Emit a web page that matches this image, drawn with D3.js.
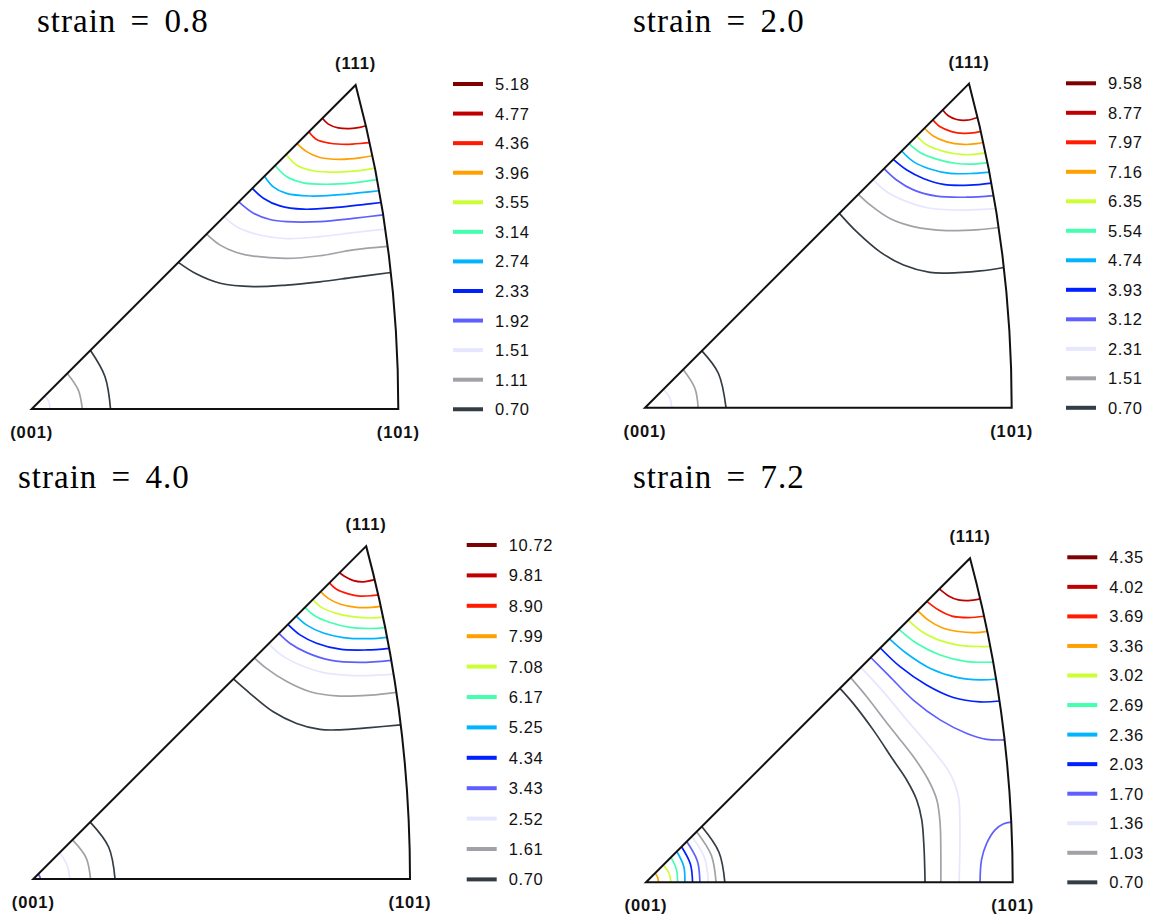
<!DOCTYPE html>
<html>
<head>
<meta charset="utf-8">
<script src="https://cdn.jsdelivr.net/npm/d3@7"></script>
<style>
  body { margin: 0; background: #fff; }
  svg { display: block; }
</style>
</head>
<body>
<svg id="fig" width="1155" height="917"></svg>
<script>
// Inverse pole figures (standard stereographic triangle) at four strains.
// Contour points are given in triangle coordinates normalised so that
// (001) = (0,0), (101) = (1,0) and (111) = (0.8836, 0.8836).

const titles = ["strain = 0.8", "strain = 2.0", "strain = 4.0", "strain = 7.2"];
const poleLabels = ["(001)", "(101)", "(111)"];

// contour levels, lowest first
const levels08 = [0.70, 1.11, 1.51, 1.92, 2.33, 2.74, 3.14, 3.55, 3.96, 4.36, 4.77, 5.18];
const levels20 = [0.70, 1.51, 2.31, 3.12, 3.93, 4.74, 5.54, 6.35, 7.16, 7.97, 8.77, 9.58];
const levels40 = [0.70, 1.61, 2.52, 3.43, 4.34, 5.25, 6.17, 7.08, 7.99, 8.90, 9.81, 10.72];
const levels72 = [0.70, 1.03, 1.36, 1.70, 2.03, 2.36, 2.69, 3.02, 3.36, 3.69, 4.02, 4.35];

const levelColors = ["#343c44", "#a0a2a8", "#e6e6ff", "#5f5fff", "#0020ff", "#00b4ff",
                     "#44ffb0", "#ccff33", "#ffa000", "#ff1a00", "#c00000", "#7f0000"];

// contour lines: [level index, points]
const contours08 = [
  [0, [[0.40,0.40],[0.45,0.368],[0.514,0.343],[0.605,0.334],[0.695,0.338],[0.786,0.347],[0.877,0.359],[0.977,0.372]]],
  [0, [[0.16,0.16],[0.20,0.088],[0.215,0]]],
  [1, [[0.477,0.477],[0.514,0.447],[0.559,0.427],[0.605,0.417],[0.695,0.411],[0.786,0.418],[0.877,0.434],[0.968,0.443]]],
  [1, [[0.097,0.097],[0.127,0.052],[0.138,0]]],
  [2, [[0.525,0.525],[0.559,0.497],[0.605,0.479],[0.695,0.465],[0.786,0.47],[0.877,0.481],[0.959,0.49]]],
  [2, [[0.036,0.036],[0.047,0.019],[0.05,0]]],
  [3, [[0.565,0.565],[0.605,0.534],[0.65,0.517],[0.695,0.511],[0.786,0.511],[0.877,0.52],[0.956,0.529]]],
  [4, [[0.602,0.602],[0.632,0.575],[0.677,0.554],[0.741,0.545],[0.832,0.55],[0.914,0.559],[0.952,0.563]]],
  [5, [[0.635,0.635],[0.659,0.606],[0.695,0.588],[0.759,0.581],[0.832,0.584],[0.905,0.591],[0.946,0.595]]],
  [6, [[0.664,0.664],[0.695,0.634],[0.741,0.617],[0.805,0.613],[0.877,0.617],[0.939,0.625]]],
  [7, [[0.694,0.694],[0.723,0.665],[0.768,0.65],[0.832,0.646],[0.895,0.65],[0.932,0.656]]],
  [8, [[0.724,0.724],[0.75,0.702],[0.786,0.686],[0.841,0.681],[0.895,0.685],[0.925,0.69]]],
  [9, [[0.756,0.756],[0.777,0.735],[0.814,0.725],[0.859,0.722],[0.905,0.725],[0.919,0.726]]],
  [10, [[0.793,0.793],[0.809,0.777],[0.836,0.767],[0.868,0.765],[0.895,0.768],[0.909,0.772]]]
];

const contours20 = [
  [0, [[0.53,0.53],[0.577,0.48],[0.641,0.425],[0.705,0.389],[0.777,0.369],[0.823,0.367],[0.914,0.373],[0.975,0.382]]],
  [0, [[0.155,0.155],[0.20,0.094],[0.221,0]]],
  [1, [[0.582,0.582],[0.614,0.553],[0.668,0.516],[0.732,0.494],[0.823,0.483],[0.914,0.486],[0.962,0.491]]],
  [1, [[0.104,0.104],[0.136,0.053],[0.145,0]]],
  [2, [[0.622,0.622],[0.659,0.589],[0.714,0.562],[0.777,0.544],[0.868,0.539],[0.952,0.542]]],
  [2, [[0.05,0.05],[0.067,0.028],[0.073,0]]],
  [3, [[0.652,0.652],[0.686,0.621],[0.732,0.594],[0.795,0.577],[0.877,0.574],[0.948,0.578]]],
  [4, [[0.677,0.677],[0.714,0.648],[0.759,0.625],[0.814,0.609],[0.886,0.607],[0.941,0.612]]],
  [5, [[0.70,0.70],[0.732,0.671],[0.777,0.651],[0.832,0.639],[0.895,0.639],[0.936,0.642]]],
  [6, [[0.72,0.72],[0.75,0.696],[0.795,0.678],[0.85,0.666],[0.905,0.665],[0.932,0.668]]],
  [7, [[0.741,0.741],[0.768,0.717],[0.814,0.699],[0.868,0.69],[0.909,0.692],[0.925,0.694]]],
  [8, [[0.762,0.762],[0.786,0.741],[0.823,0.725],[0.868,0.718],[0.905,0.72],[0.918,0.723]]],
  [9, [[0.785,0.785],[0.805,0.766],[0.836,0.753],[0.868,0.748],[0.90,0.75],[0.914,0.753]]],
  [10, [[0.812,0.812],[0.827,0.796],[0.85,0.786],[0.877,0.784],[0.905,0.791]]]
];

const contours40 = [
  [0, [[0.531,0.531],[0.575,0.493],[0.637,0.444],[0.699,0.413],[0.761,0.397],[0.814,0.396],[0.894,0.402],[0.975,0.409]]],
  [0, [[0.151,0.151],[0.20,0.085],[0.217,0]]],
  [1, [[0.587,0.587],[0.619,0.559],[0.673,0.524],[0.735,0.497],[0.805,0.486],[0.894,0.488],[0.96,0.495]]],
  [1, [[0.104,0.104],[0.14,0.057],[0.152,0]]],
  [2, [[0.625,0.625],[0.655,0.597],[0.708,0.568],[0.77,0.548],[0.85,0.54],[0.912,0.541],[0.951,0.543]]],
  [2, [[0.07,0.07],[0.09,0.036],[0.097,0]]],
  [3, [[0.652,0.652],[0.681,0.626],[0.726,0.601],[0.788,0.581],[0.867,0.575],[0.947,0.58]]],
  [3, [[0.013,0.013],[0.017,0.007],[0.019,0]]],
  [4, [[0.676,0.676],[0.708,0.648],[0.752,0.626],[0.814,0.61],[0.885,0.608],[0.942,0.612]]],
  [5, [[0.698,0.698],[0.726,0.674],[0.77,0.653],[0.823,0.641],[0.894,0.638],[0.936,0.641]]],
  [6, [[0.721,0.721],[0.748,0.698],[0.788,0.681],[0.841,0.668],[0.894,0.665],[0.932,0.667]]],
  [7, [[0.742,0.742],[0.765,0.721],[0.805,0.705],[0.858,0.695],[0.903,0.693],[0.927,0.695]]],
  [8, [[0.763,0.763],[0.783,0.745],[0.814,0.73],[0.858,0.721],[0.898,0.721],[0.92,0.723]]],
  [9, [[0.786,0.786],[0.805,0.769],[0.836,0.757],[0.867,0.751],[0.898,0.752],[0.914,0.754]]],
  [10, [[0.813,0.813],[0.827,0.803],[0.85,0.792],[0.876,0.789],[0.904,0.794]]]
];

const contours72 = [
  [0, [[0.529,0.529],[0.565,0.488],[0.62,0.415],[0.674,0.334],[0.711,0.279],[0.738,0.225],[0.752,0.17],[0.758,0.097],[0.761,0]]],
  [0, [[0.152,0.152],[0.199,0.082],[0.215,0]]],
  [1, [[0.558,0.558],[0.602,0.506],[0.665,0.424],[0.729,0.343],[0.77,0.279],[0.793,0.225],[0.802,0.161],[0.804,0.079],[0.804,0]]],
  [1, [[0.138,0.138],[0.178,0.074],[0.191,0]]],
  [2, [[0.586,0.586],[0.647,0.52],[0.711,0.443],[0.774,0.37],[0.829,0.297],[0.852,0.233],[0.856,0.152],[0.854,0]]],
  [2, [[0.125,0.125],[0.16,0.066],[0.17,0]]],
  [3, [[0.613,0.613],[0.665,0.561],[0.729,0.497],[0.802,0.443],[0.875,0.406],[0.929,0.39],[0.974,0.388]]],
  [3, [[0.911,0],[0.915,0.061],[0.929,0.106],[0.952,0.143],[0.974,0.159],[0.993,0.164]]],
  [3, [[0.111,0.111],[0.14,0.058],[0.147,0]]],
  [4, [[0.639,0.639],[0.693,0.588],[0.765,0.538],[0.838,0.504],[0.911,0.492],[0.961,0.494]]],
  [4, [[0.097,0.097],[0.121,0.05],[0.127,0]]],
  [5, [[0.664,0.664],[0.711,0.624],[0.774,0.584],[0.847,0.559],[0.911,0.552],[0.952,0.554]]],
  [5, [[0.084,0.084],[0.103,0.043],[0.106,0]]],
  [6, [[0.69,0.69],[0.738,0.652],[0.802,0.62],[0.875,0.602],[0.943,0.6]]],
  [6, [[0.068,0.068],[0.083,0.035],[0.086,0]]],
  [7, [[0.715,0.715],[0.752,0.684],[0.797,0.661],[0.852,0.647],[0.906,0.643],[0.936,0.643]]],
  [7, [[0.047,0.047],[0.062,0.026],[0.068,0]]],
  [8, [[0.741,0.741],[0.77,0.715],[0.806,0.695],[0.852,0.684],[0.897,0.681],[0.929,0.684]]],
  [8, [[0.025,0.025],[0.032,0.013],[0.034,0]]],
  [9, [[0.766,0.766],[0.797,0.743],[0.834,0.726],[0.879,0.722],[0.92,0.725]]],
  [10, [[0.80,0.80],[0.825,0.781],[0.852,0.77],[0.879,0.768],[0.908,0.772]]]
];

const panelLevels = [levels08, levels20, levels40, levels72];
const panelContours = [contours08, contours20, contours40, contours72];

// page placement of each panel
const frames = [
  { ox: 31.7,  oy: 409,   w: 366.6, tx: 37,  ty: 32,  lx: 453,    ly: 84,    step: 29.57 },
  { ox: 645,   oy: 407.7, w: 366.7, tx: 633, ty: 32,  lx: 1066,   ly: 83.3,  step: 29.5 },
  { ox: 33.3,  oy: 879,   w: 376.7, tx: 18,  ty: 488, lx: 466.7,  ly: 545,   step: 30.4 },
  { ox: 646,   oy: 882.3, w: 366.7, tx: 633, ty: 488, lx: 1067.3, ly: 557.3, step: 29.55 }
];

// geometry of the standard triangle (normalised units)
const apex = ((Math.sqrt(3) - 1) / 2) / (Math.SQRT2 - 1); // (111)
const arcC = -1 / (Math.SQRT2 - 1);          // centre of the (101)-(111) great circle
const arcR = Math.SQRT2 / (Math.SQRT2 - 1);  // its radius

// move an end point exactly onto the nearest triangle edge
function snap(p) {
  const [u, v] = p;
  const dDiag = Math.abs(u - v) / Math.SQRT2;
  const dBase = Math.abs(v);
  const d = Math.hypot(u - arcC, v);
  const dArc = Math.abs(d - arcR);
  const m = Math.min(dDiag, dBase, dArc);
  if (m === dBase) return [u, 0];
  if (m === dDiag) { const t = (u + v) / 2; return [t, t]; }
  return [arcC + (u - arcC) * arcR / d, v * arcR / d];
}

const fmt = d3.format(".2f");
const svg = d3.select("#fig");
svg.append("rect").attr("width", 1155).attr("height", 917).attr("fill", "#fff");

frames.forEach((f, i) => {
  const levels = panelLevels[i];
  const x = d3.scaleLinear().domain([0, 1]).range([f.ox, f.ox + f.w]);
  const y = d3.scaleLinear().domain([0, 1]).range([f.oy, f.oy - f.w]);
  const g = svg.append("g");

  const R = arcR * f.w;
  const outline = `M${x(0)},${y(0)}L${x(1)},${y(0)}A${R},${R} 0 0 0 ${x(apex)},${y(apex)}Z`;

  g.append("clipPath").attr("id", "tri" + i)
    .append("path").attr("d", outline);

  const line = d3.line()
    .x(d => x(d[0])).y(d => y(d[1]))
    .curve(d3.curveCatmullRom.alpha(0.5));

  g.append("g").attr("clip-path", `url(#tri${i})`)
    .selectAll("path")
    .data(panelContours[i])
    .join("path")
    .attr("d", c => {
      const pts = c[1].slice();
      pts[0] = snap(pts[0]);
      pts[pts.length - 1] = snap(pts[pts.length - 1]);
      return line(pts);
    })
    .attr("fill", "none")
    .attr("stroke", c => levelColors[c[0]])
    .attr("stroke-width", 1.7)
    .attr("stroke-linecap", "round");

  g.append("path").attr("d", outline)
    .attr("fill", "none").attr("stroke", "#111")
    .attr("stroke-width", 2).attr("stroke-linejoin", "miter");

  // pole labels
  const pole = g.append("g")
    .attr("font-family", "'Liberation Sans', Arial, sans-serif")
    .attr("font-weight", "bold").attr("font-size", 16.5)
    .attr("letter-spacing", 0.9).attr("text-anchor", "middle").attr("fill", "#111");
  pole.append("text").attr("x", x(0)).attr("y", y(0) + 29).text(poleLabels[0]);
  pole.append("text").attr("x", x(1)).attr("y", y(0) + 29).text(poleLabels[1]);
  pole.append("text").attr("x", x(apex)).attr("y", y(apex) - 16).text(poleLabels[2]);

  // title
  g.append("text")
    .attr("x", f.tx).attr("y", f.ty)
    .attr("font-family", "'Liberation Serif', 'Times New Roman', serif")
    .attr("font-size", 33).attr("letter-spacing", 1).attr("word-spacing", 5)
    .attr("fill", "#000")
    .text(titles[i]);

  // legend, highest level on top
  const rows = levels.map((v, k) => ({ v, k })).reverse();
  const ly = d3.scaleLinear().domain([0, 11]).range([f.ly, f.ly + 11 * f.step]);
  const lg = g.append("g");
  lg.selectAll("line").data(rows).join("line")
    .attr("x1", f.lx).attr("x2", f.lx + 30)
    .attr("y1", (d, r) => ly(r)).attr("y2", (d, r) => ly(r))
    .attr("stroke", d => levelColors[d.k]).attr("stroke-width", 4);
  lg.selectAll("text").data(rows).join("text")
    .attr("x", f.lx + 42).attr("y", (d, r) => ly(r))
    .attr("dy", "0.36em")
    .attr("font-family", "'Liberation Sans', Arial, sans-serif")
    .attr("font-size", 16.5).attr("letter-spacing", 0.6).attr("fill", "#111")
    .text(d => fmt(d.v));
});
</script>
</body>
</html>
